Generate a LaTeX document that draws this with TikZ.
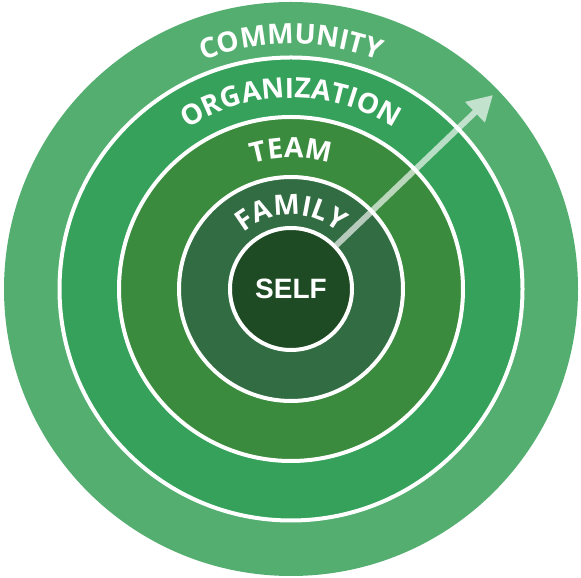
\documentclass[tikz,border=0pt]{standalone}
\usepackage{fontspec}
\setmainfont{Open Sans}
\newfontfamily\selffont{Liberation Sans}
\usetikzlibrary{decorations.text,arrows.meta}
\definecolor{ccommunity}{HTML}{53AE70}
\definecolor{corg}{HTML}{35A15A}
\definecolor{cteam}{HTML}{3A8B3D}
\definecolor{cfamily}{HTML}{326C42}
\definecolor{cself}{HTML}{1E4A24}
\newcommand{\ringfont}{\fontsize{28}{28}\selectfont\bfseries}
\begin{document}
\begin{tikzpicture}[x=1pt,y=1pt,
  ring/.style={circle, inner sep=0pt, draw=white, line width=4pt},
  arctext/.style={decorate, decoration={text along path, text align=center, text color=white, text={|\ringfont|#1}}}
]
\useasboundingbox (0,0) rectangle (581,578);
\coordinate (c) at (291,289);
\node[circle, inner sep=0pt, fill=ccommunity, minimum size=574pt] (community) at (c) {};
\node[ring, fill=corg, minimum size=463pt] (org) at (c) {};
\node[ring, fill=cteam, minimum size=344pt] (team) at (c) {};
\node[ring, fill=cfamily, minimum size=224pt] (family) at (c) {};
\node[ring, fill=cself, minimum size=122pt, text=white, font=\selffont\bfseries\fontsize{28}{28}\selectfont] (self) at (c) {SELF};
\path[arctext=COMMUNITY] (c) ++(180:245) arc[start angle=180, end angle=0, radius=245];
\path[arctext=ORGANIZATION] (c) ++(180:191) arc[start angle=180, end angle=0, radius=191];
\path[arctext=TEAM] (c) ++(180:131) arc[start angle=180, end angle=0, radius=131];
\path[arctext=FAMILY] (c) ++(180:74) arc[start angle=180, end angle=0, radius=74];
\coordinate (tip) at (493,483);
\begin{scope}[transparency group, opacity=0.65]
\draw[white, line width=6pt, -{Triangle[width=27pt,length=25pt]}] (self.44) -- (tip);
\end{scope}
\end{tikzpicture}
\end{document}
